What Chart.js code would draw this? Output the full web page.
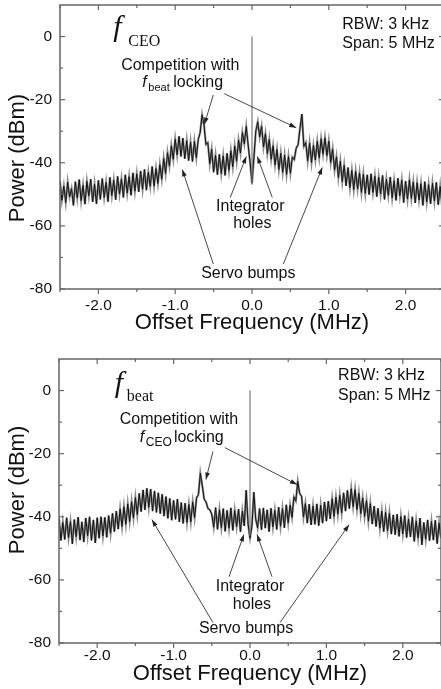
<!DOCTYPE html>
<html>
<head>
<meta charset="utf-8">
<script src="https://cdn.jsdelivr.net/npm/chart.js@4.4.1/dist/chart.umd.min.js"></script>
<style>
html, body { margin:0; padding:0; background:#fff; overflow:hidden; width:441px; height:689px }
.panel { position:absolute; left:0 }
#top { top:0 }
#bottom { top:340px }
</style>
</head>
<body>
<div class="panel" id="top"><canvas id="ceoChart" width="450" height="340"></canvas></div>
<div class="panel" id="bottom"><canvas id="beatChart" width="450" height="349"></canvas></div>
<script>
// sweep grid of the analyzer: -2.5 .. 2.5 MHz, 201 points
const freqs = Array.from({ length: 201 }, (_, i) => -2.5 + i * 0.025)

// f_CEO beat note, dBm
const ceoTrace = [
	-45.8, -51.9, -47.4, -52.6, -46.1, -50.8, -48.2, -53.5, -46.0, -51.2, -45.3, -52.0, -47.1, -53.1, -45.9, -50.5, -45.2, -52.4, -46.8, -53.0, -45.6,
	-51.6, -45.0, -51.0, -46.2, -52.3, -44.6, -50.4, -45.5, -51.7, -44.3, -49.9, -45.1, -51.0, -43.8, -49.6, -44.4, -50.3, -43.2, -49.0, -43.5,
	-49.2, -42.6, -48.4, -42.1, -48.7, -43.0, -47.5, -41.2, -47.4, -41.8, -46.6, -40.6,
	-45.2, -38.6, -43.4, -36.8, -41.0, -34.6, -38.9, -32.5, -37.5, -31.6,
	-38.0, -32.2, -38.7, -33.0, -39.3, -33.4, -39.6, -33.2, -38.4, -32.6,
	-30.4, -24.8, -28.0, -34.2, -33.6, -40.3, -35.7, -43.0,
	-37.6, -43.8, -37.3, -43.4, -37.8, -44.0, -37.0, -42.4, -36.2, -41.3, -34.7, -39.5,
	-32.8, -36.9, -30.4, -34.0, -28.5, -34.4, -39.8, -46.5, -38.4, -29.9, -27.0, -31.8, -28.4, -35.0, -30.8, -37.1,
	-32.6, -38.9, -34.6, -40.7, -35.8, -42.1, -37.0, -43.0, -37.6, -43.7, -38.0, -43.3,
	-38.2, -39.0, -35.4, -34.3, -29.0, -24.6, -34.8, -33.6,
	-39.4, -33.8, -39.9, -34.5, -39.1, -33.2, -38.4, -32.4, -37.3, -32.1,
	-37.7, -33.1, -39.9, -35.6, -42.3, -38.1, -44.7, -39.5, -46.0, -40.8,
	-47.3, -41.5, -47.9, -42.4, -48.5, -42.7, -48.3, -43.2, -49.4, -43.6, -49.7, -43.8,
	-50.1, -43.5, -49.4, -44.3, -50.7, -44.6, -49.9, -44.0, -51.6, -45.2, -50.3, -44.5, -51.1, -45.7, -51.9, -44.9, -50.5, -45.5, -52.6, -45.8,
	-51.5, -45.4, -51.3, -46.1, -52.7, -46.3, -51.8, -46.6, -53.5, -46.0, -52.4, -46.9, -53.0, -46.5, -52.1, -46.2, -53.3, -47.5, -53.8, -47.1
]

// f_beat note, dBm (lower panel)
const beatTrace = [
	-40.6, -47.5, -41.8, -47.2, -40.3, -46.6, -41.5, -48.6, -40.9, -46.3, -40.1, -47.4, -41.6, -48.0, -40.4, -46.0, -40.0, -47.5, -41.0, -48.3, -40.3,
	-46.8, -40.0, -46.1, -40.2, -46.5, -39.6, -45.2, -38.9, -44.7, -38.2, -43.9, -37.5, -43.1, -36.8, -42.4, -35.9, -41.5, -35.2, -40.4, -33.9,
	-39.3, -32.6, -38.4, -31.5, -37.8, -31.0, -37.0, -31.2, -38.2, -31.8, -38.6, -32.4,
	-39.0, -32.9, -39.8, -33.6, -40.5, -34.2, -41.1, -34.8, -40.8, -34.4, -41.6, -35.5, -42.1, -35.7, -41.8, -36.1, -41.6, -35.3, -40.3, -34.0,
	-33.0, -26.2, -30.0, -34.4, -35.3, -37.4, -37.8, -39.2,
	-43.3, -37.1, -44.0, -37.8, -43.4, -37.4, -44.6, -38.0, -43.6, -37.2, -44.3, -38.0, -43.1, -37.6, -44.8, -38.2, -42.9,
	-31.6, -42.3, -46.8, -43.0, -32.2, -40.8, -43.5,
	-37.4, -44.1, -37.2, -43.6, -37.8, -44.7, -37.3, -43.2, -38.0, -44.0, -36.9, -43.0, -37.4, -43.5, -36.2, -41.9,
	-36.3, -40.2, -33.7, -35.0, -28.8, -32.6, -33.5, -40.1,
	-35.8, -42.0, -36.0, -42.6, -36.6, -42.4, -35.9, -42.8, -36.4, -42.0, -35.3, -41.4, -35.0, -40.7, -34.3, -39.9, -33.8, -39.2, -33.2, -38.8,
	-32.4, -38.2, -31.6, -37.4, -31.1, -36.8, -31.4, -37.7, -32.6, -39.0, -34.0, -39.9,
	-34.9, -41.4, -35.8, -42.3, -36.6, -43.1, -37.3, -43.6, -38.2, -44.7, -38.6, -44.4, -38.9, -45.5, -39.4, -45.7, -39.2, -46.2, -39.9, -45.4,
	-39.6, -46.6, -40.7, -46.4, -40.0, -47.8, -41.3, -46.7, -40.4, -48.9, -41.8, -47.1, -41.0, -47.6, -41.5, -47.4, -41.1, -48.5, -42.0, -46.8
]

// carrier line at zero offset: top and foot, dBm
const ceoCarrier = [0, -47]
const beatCarrier = [0, -46]

const xTickLabels = [-2, -1, 0, 1, 2]
const yTickLabels = [0, -20, -40, -60, -80]

var spectrum = spectrum || {}
spectrum = (() => {
	let sans = '"Liberation Sans", Arial, sans-serif'
	let serif = '"Liberation Serif", "Times New Roman", serif'
	let axisGray = '#666'

	// text & arrows, placed in data units (MHz, dBm)
	let ceoNotes = {
		yTitle: { x: 18, y: -38.5 },
		texts: [
			{ t: 'f', x: -1.806, y: 0.22, font: 'italic 30px ' + serif, align: 'left', base: 'alphabetic' },
			{ t: 'CEO', x: -1.611, y: -3.10, font: '16px ' + serif, align: 'left', base: 'alphabetic' },
			{ t: 'RBW: 3 kHz', x: 1.176, y: 3.70, font: '16px ' + sans, align: 'left' },
			{ t: 'Span: 5 MHz', x: 1.176, y: -2.31, font: '16px ' + sans, align: 'left' },
			{ t: 'Competition with', x: -0.934, y: -9.26, font: '16px ' + sans, align: 'center' },
			{ t: 'f', x: -1.428, y: -14.63, font: 'italic 16px ' + sans, align: 'left' },
			{ t: 'beat', x: -1.350, y: -16.21, font: '11px ' + sans, align: 'left' },
			{ t: 'locking', x: -1.025, y: -14.63, font: '16px ' + sans, align: 'left' },
			{ t: 'Integrator', x: -0.022, y: -53.81, font: '16px ' + sans, align: 'center' },
			{ t: 'holes', x: 0.004, y: -59.18, font: '16px ' + sans, align: 'center' },
			{ t: 'Servo bumps', x: -0.048, y: -74.97, font: '16px ' + sans, align: 'center' }
		],
		arrows: [
			[-0.504, -18.5, -0.621, -27.9],
			[-0.361, -18.1, 0.576, -28.9],
			[-0.283, -51.0, -0.074, -38.0],
			[0.264, -51.0, 0.069, -38.0],
			[-0.504, -72.1, -0.908, -42.1],
			[0.408, -72.1, 0.915, -41.5]
		]
	}
	let beatNotes = {
		yTitle: { x: 18, y: -31.5 },
		texts: [
			{ t: 'f', x: -1.769, y: -0.32, font: 'italic 30px ' + serif, align: 'left', base: 'alphabetic' },
			{ t: 'beat', x: -1.612, y: -3.33, font: '16px ' + serif, align: 'left', base: 'alphabetic' },
			{ t: 'RBW: 3 kHz', x: 1.153, y: 4.75, font: '16px ' + sans, align: 'left' },
			{ t: 'Span: 5 MHz', x: 1.153, y: -1.58, font: '16px ' + sans, align: 'left' },
			{ t: 'Competition with', x: -0.930, y: -9.19, font: '16px ' + sans, align: 'center' },
			{ t: 'f', x: -1.442, y: -14.90, font: 'italic 16px ' + sans, align: 'left' },
			{ t: 'CEO', x: -1.363, y: -16.48, font: '12px ' + sans, align: 'left' },
			{ t: 'locking', x: -0.996, y: -14.90, font: '16px ' + sans, align: 'left' },
			{ t: 'Integrator', x: 0, y: -62.12, font: '16px ' + sans, align: 'center' },
			{ t: 'holes', x: 0.026, y: -67.83, font: '16px ' + sans, align: 'center' },
			{ t: 'Servo bumps', x: -0.052, y: -75.44, font: '16px ' + sans, align: 'center' }
		],
		arrows: [
			[-0.485, -19.3, -0.577, -28.2],
			[-0.328, -18.1, 0.616, -29.8],
			[-0.275, -59.0, -0.079, -45.6],
			[0.288, -59.0, 0.092, -45.6],
			[-0.485, -73.5, -1.284, -40.9],
			[0.393, -73.5, 1.297, -42.5]
		]
	}

	let line = (ctx, x1, y1, x2, y2) => {
		ctx.beginPath()
		ctx.moveTo(x1, y1)
		ctx.lineTo(x2, y2)
		ctx.stroke()
	}

	// frame + tick marks (left/top/right inward, bottom outward like the original)
	let frameTicks = {
		id: 'frameTicks',
		afterDraw: chart => {
			let { ctx, chartArea: a, scales: { x, y } } = chart
			ctx.save()
			ctx.strokeStyle = axisGray
			ctx.lineWidth = 1.5
			ctx.strokeRect(a.left, a.top, a.right - a.left, a.bottom - a.top)
			ctx.lineWidth = 1.2
			for (let v = -2.5; v <= 2.5; v += 0.5) {
				let px = x.getPixelForValue(v)
				let len = Number.isInteger(v) ? 5 : 3
				line(ctx, px, a.bottom, px, a.bottom + len)
				line(ctx, px, a.top, px, a.top + len)
			}
			for (let v = -80; v <= 0; v += 10) {
				let py = y.getPixelForValue(v)
				let len = v % 20 === 0 ? 5 : 3
				line(ctx, a.left, py, a.left + len, py)
				line(ctx, a.right, py, a.right - len, py)
			}
			ctx.restore()
		}
	}

	let notesPlugin = {
		id: 'notes',
		afterDatasetsDraw: (chart, args, opts) => {
			let { ctx, scales: { x, y } } = chart
			ctx.save()
			ctx.fillStyle = '#111'
			// y title sits a little above the plot centre in the original
			ctx.save()
			ctx.translate(opts.yTitle.x, y.getPixelForValue(opts.yTitle.y))
			ctx.rotate(-Math.PI / 2)
			ctx.font = '22px ' + sans
			ctx.textAlign = 'center'
			ctx.textBaseline = 'middle'
			ctx.fillText('Power (dBm)', 0, 0)
			ctx.restore()
			opts.texts.forEach(n => {
				ctx.font = n.font
				ctx.textAlign = n.align
				ctx.textBaseline = n.base || 'middle'
				ctx.fillText(n.t, x.getPixelForValue(n.x), y.getPixelForValue(n.y))
			})
			ctx.strokeStyle = '#333'
			ctx.fillStyle = '#222'
			ctx.lineWidth = 0.9
			opts.arrows.forEach(r => {
				let x1 = x.getPixelForValue(r[0]), y1 = y.getPixelForValue(r[1])
				let x2 = x.getPixelForValue(r[2]), y2 = y.getPixelForValue(r[3])
				line(ctx, x1, y1, x2, y2)
				let ang = Math.atan2(y2 - y1, x2 - x1)
				ctx.beginPath()
				ctx.moveTo(x2, y2)
				ctx.lineTo(x2 - 7 * Math.cos(ang) + 2.4 * Math.sin(ang), y2 - 7 * Math.sin(ang) - 2.4 * Math.cos(ang))
				ctx.lineTo(x2 - 7 * Math.cos(ang) - 2.4 * Math.sin(ang), y2 - 7 * Math.sin(ang) + 2.4 * Math.cos(ang))
				ctx.closePath()
				ctx.fill()
			})
			ctx.restore()
		}
	}

	let makeChart = (id, trace, carrier, notes, box) => {
		let pts = trace.map((v, i) => ({ x: freqs[i], y: v }))
		new Chart(document.getElementById(id), {
			type: 'line',
			data: {
				datasets: [
					// grey halo under the trace, like the scanned original
					{ data: pts, borderColor: '#8c8c8c', borderWidth: 2.2, pointRadius: 0, tension: 0, order: 3 },
					{ data: pts, borderColor: '#141414', borderWidth: 1, pointRadius: 0, tension: 0, order: 2 },
					{
						data: carrier.map(v => ({ x: 0, y: v })),
						borderColor: '#7a7a7a',
						borderWidth: 1.2,
						pointRadius: 0,
						order: 1
					}
				]
			},
			options: {
				responsive: false,
				animation: false,
				events: [],
				layout: { autoPadding: false, padding: { top: box.top, right: box.right, left: 0, bottom: 0 } },
				plugins: { legend: { display: false }, tooltip: { enabled: false }, notes: notes },
				scales: {
					x: {
						type: 'linear',
						min: -2.5,
						max: 2.5,
						afterFit: s => { s.height = box.xh; s.paddingLeft = 0; s.paddingRight = 0 },
						afterBuildTicks: s => { s.ticks = s.ticks.filter(t => xTickLabels.includes(t.value)) },
						grid: { display: false, drawTicks: false },
						border: { display: false },
						ticks: {
							stepSize: 0.5,
							autoSkip: false,
							maxRotation: 0,
							padding: box.xpad,
							color: '#111',
							font: { family: sans, size: 15.5 },
							callback: v => v.toFixed(1)
						},
						title: {
							display: true,
							text: 'Offset Frequency (MHz)',
							color: '#111',
							font: { family: sans, size: 22 },
							padding: { top: 0, bottom: box.xtitle }
						}
					},
					y: {
						min: -80,
						max: 10,
						afterFit: s => { s.width = box.left; s.paddingTop = 0; s.paddingBottom = 0 },
						afterBuildTicks: s => { s.ticks = s.ticks.filter(t => yTickLabels.includes(t.value)) },
						grid: { display: false, drawTicks: false },
						border: { display: false },
						ticks: {
							stepSize: 10,
							autoSkip: false,
							padding: 8,
							color: '#111',
							font: { family: sans, size: 15.5 },
							callback: v => String(v)
						},
						title: { display: false }
					}
				}
			},
			plugins: [frameTicks, notesPlugin]
		})
	}

	let onCreate = () => {
		makeChart('ceoChart', ceoTrace, ceoCarrier, ceoNotes, { top: 5, right: 6, left: 60, xh: 51, xpad: 7, xtitle: 4 })
		makeChart('beatChart', beatTrace, beatCarrier, beatNotes, { top: 19, right: 9, left: 59, xh: 46, xpad: 3, xtitle: 2 })
	}
	return { onCreate }
})()

spectrum.onCreate()
</script>
</body>
</html>
